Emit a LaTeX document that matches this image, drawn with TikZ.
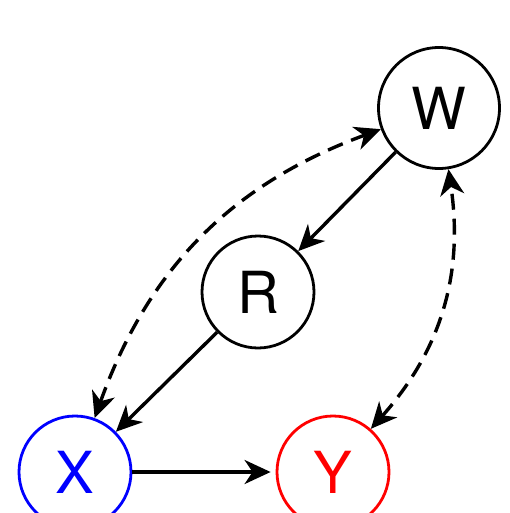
\documentclass[tikz,border=0pt]{standalone}
\usepackage{fontspec}
\setmainfont{TeX Gyre Heros}
\usetikzlibrary{arrows.meta}

\tikzset{
  var/.style={shape=circle, draw, line width=2.8pt, minimum size=112pt, inner sep=0pt, font=\fontsize{58}{58}\selectfont},
  tip/.style={Stealth[length=26pt, width=24pt, inset=8pt]},
  edge/.style={line width=3.4pt, -{Stealth[length=26pt, width=24pt, inset=8pt]}},
  latent/.style={line width=3.4pt, dash pattern=on 16pt off 9pt, {Stealth[length=26pt, width=24pt, inset=8pt]}-{Stealth[length=26pt, width=24pt, inset=8pt]}}
}

\begin{document}
\begin{tikzpicture}[x=1pt, y=-1pt]
	\useasboundingbox (0, 0) rectangle (509, 513);
	% Nodes:
	\node[var, minimum size=121pt](W) at (439, 108){W};
	\node[var](R) at (258, 292){R};
	\node[var, draw=blue, text=blue](X) at (75, 472){X};
	\node[var, draw=red, text=red](Y) at (333, 472){Y};
	% Edges:
	\draw[edge] (W) -- (R);
	\draw[edge] (R) -- (X);
	\draw[edge, shorten >=5pt] (X) -- (Y);
	\draw[latent] (X) to[bend left=25] (W);
	\draw[latent] (Y) to[bend right=25] (W);
\end{tikzpicture}
\end{document}
